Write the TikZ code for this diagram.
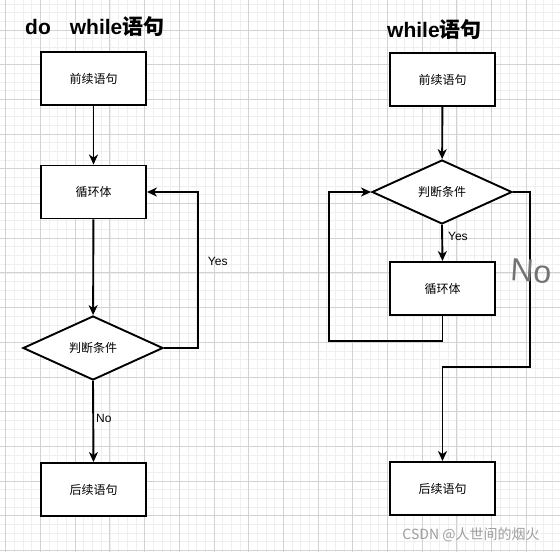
\documentclass[tikz,border=0pt]{standalone}
\usepackage{fontspec}
\setmainfont{Liberation Sans}
\newfontfamily\cjk{Noto Sans CJK SC}
\usetikzlibrary{shapes.geometric,arrows.meta}
\definecolor{gmajor}{HTML}{D2D2D2}
\definecolor{gminor}{HTML}{EFEFEF}
\tikzset{
  stepbox/.style={draw, line width=1.9pt, fill=white, minimum width=105pt, minimum height=53pt, inner sep=0pt, font=\cjk\fontsize{12}{14}\selectfont},
  decision/.style={diamond, draw, line width=1.9pt, fill=white, minimum width=140pt, minimum height=64pt, inner sep=0pt, font=\cjk\fontsize{12}{14}\selectfont},
  conn/.style={line width=1.9pt},
  arr/.style={conn, -{Stealth[length=10pt,width=9pt,inset=3pt]}},
  lbl/.style={font=\fontsize{12}{14}\selectfont, inner sep=1pt},
  title/.style={font=\bfseries\fontsize{21}{24}\selectfont, inner sep=0pt},
}
\begin{document}
\begin{tikzpicture}[x=1pt,y=-1pt]
\useasboundingbox (0,0) rectangle (560,552);
\fill[white] (0,0) rectangle (560,552);
\begin{scope}
\clip (0,0) rectangle (560,552);
\foreach \i in {0,...,68} \draw[gminor, line width=0.8pt] ({-28.9+\i*8.675},0) -- ({-28.9+\i*8.675},552);
\foreach \i in {0,...,64} \draw[gminor, line width=0.8pt] (0,{-4.7+\i*8.675}) -- (560,{-4.7+\i*8.675});
\foreach \i in {0,...,17} \draw[gmajor, line width=0.9pt] ({-28.9+\i*34.7},0) -- ({-28.9+\i*34.7},552);
\foreach \i in {0,...,16} \draw[gmajor, line width=0.9pt] (0,{-4.7+\i*34.7}) -- (560,{-4.7+\i*34.7});
\end{scope}

% titles
\node[title, anchor=west] (t1) at (25,27) {do\hspace{19pt}while{\cjk\bfseries 语句}};
\node[title, anchor=west] (t2) at (387,30) {while{\cjk\bfseries 语句}};

% do-while
\node[stepbox] (L1) at (93.5,78.5) {前续语句};
\node[stepbox] (L2) at (93.5,192) {循环体};
\node[decision] (Ld) at (93,348) {判断条件};
\node[stepbox] (L3) at (93.5,489.5) {后续语句};
\coordinate (ly) at (198,192);
\draw[arr] (L1) -- (L2);
\draw[arr] (L2) -- (Ld);
\draw[arr] (Ld.east) -| (ly) node[lbl, pos=0.776, right=8pt] {Yes} -- (L2.east);
\draw[arr] (Ld.south) -- node[lbl, pos=0.46, right=1pt] {No} (L3.north);

% while
\node[stepbox] (R1) at (442.5,79.5) {前续语句};
\node[decision] (Rd) at (442,192) {判断条件};
\node[stepbox] (R2) at (442.5,288.5) {循环体};
\node[stepbox] (R3) at (442.5,488.5) {后续语句};
\coordinate (rl) at (329,341);
\coordinate (rn) at (530,367);
\draw[arr] (R1) -- (Rd);
\draw[arr] (Rd.south) -- node[lbl, pos=0.33, right=4pt] {Yes} (R2.north);
\draw[arr] (R2.south) |- (rl) |- (Rd.west);
\draw[arr] (Rd.east) -| (rn) -| (R3.north);

\node[text=black!55, font=\fontsize{32}{34}\selectfont, rotate=-4] (hn) at (531,271) {No};
\node[text=black!38, font=\cjk\fontsize{14}{16}\selectfont] (wm) at (471,535) {CSDN @人世间的烟火};
\end{tikzpicture}
\end{document}
